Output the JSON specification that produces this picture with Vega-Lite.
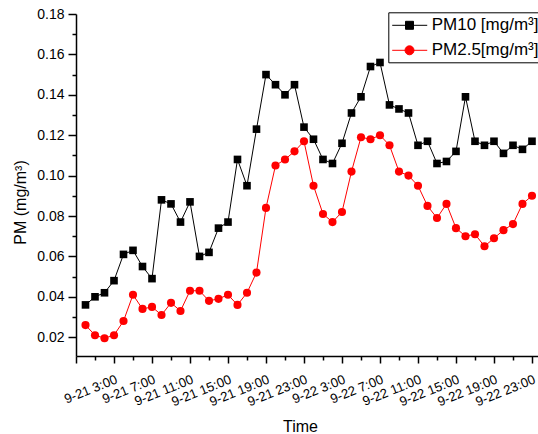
{
  "$schema": "https://vega.github.io/schema/vega-lite/v6.json",
  "width": 462,
  "height": 342,
  "autosize": {"type": "none"},
  "padding": {"left": 76, "top": 14, "right": 0, "bottom": 78},
  "background": "white",
  "config": {
    "view": {"stroke": null},
    "font": "Liberation Sans",
    "axis": {
      "domainColor": "black", "tickColor": "black", "domainWidth": 1.5, "tickWidth": 1.5,
      "labelColor": "black", "titleColor": "black", "labelFont": "Liberation Sans", "titleFont": "Liberation Sans",
      "labelFontSize": 14, "titleFontSize": 16, "titleFontWeight": "normal", "grid": false
    }
  },
  "data": {
    "format": {"parse": {"time": "utc:'%Y-%m-%d %H:%M'"}},
    "values": [
      {"time": "2023-09-21 00:00", "PM10": 0.036, "PM25": 0.026},
      {"time": "2023-09-21 01:00", "PM10": 0.040, "PM25": 0.021},
      {"time": "2023-09-21 02:00", "PM10": 0.042, "PM25": 0.0195},
      {"time": "2023-09-21 03:00", "PM10": 0.048, "PM25": 0.021},
      {"time": "2023-09-21 04:00", "PM10": 0.061, "PM25": 0.028},
      {"time": "2023-09-21 05:00", "PM10": 0.063, "PM25": 0.041},
      {"time": "2023-09-21 06:00", "PM10": 0.055, "PM25": 0.034},
      {"time": "2023-09-21 07:00", "PM10": 0.049, "PM25": 0.035},
      {"time": "2023-09-21 08:00", "PM10": 0.088, "PM25": 0.031},
      {"time": "2023-09-21 09:00", "PM10": 0.086, "PM25": 0.037},
      {"time": "2023-09-21 10:00", "PM10": 0.077, "PM25": 0.033},
      {"time": "2023-09-21 11:00", "PM10": 0.087, "PM25": 0.043},
      {"time": "2023-09-21 12:00", "PM10": 0.060, "PM25": 0.043},
      {"time": "2023-09-21 13:00", "PM10": 0.062, "PM25": 0.038},
      {"time": "2023-09-21 14:00", "PM10": 0.074, "PM25": 0.039},
      {"time": "2023-09-21 15:00", "PM10": 0.077, "PM25": 0.041},
      {"time": "2023-09-21 16:00", "PM10": 0.108, "PM25": 0.036},
      {"time": "2023-09-21 17:00", "PM10": 0.095, "PM25": 0.042},
      {"time": "2023-09-21 18:00", "PM10": 0.123, "PM25": 0.052},
      {"time": "2023-09-21 19:00", "PM10": 0.150, "PM25": 0.084},
      {"time": "2023-09-21 20:00", "PM10": 0.145, "PM25": 0.105},
      {"time": "2023-09-21 21:00", "PM10": 0.140, "PM25": 0.108},
      {"time": "2023-09-21 22:00", "PM10": 0.145, "PM25": 0.112},
      {"time": "2023-09-21 23:00", "PM10": 0.124, "PM25": 0.117},
      {"time": "2023-09-22 00:00", "PM10": 0.118, "PM25": 0.095},
      {"time": "2023-09-22 01:00", "PM10": 0.108, "PM25": 0.081},
      {"time": "2023-09-22 02:00", "PM10": 0.106, "PM25": 0.077},
      {"time": "2023-09-22 03:00", "PM10": 0.116, "PM25": 0.082},
      {"time": "2023-09-22 04:00", "PM10": 0.131, "PM25": 0.102},
      {"time": "2023-09-22 05:00", "PM10": 0.139, "PM25": 0.119},
      {"time": "2023-09-22 06:00", "PM10": 0.154, "PM25": 0.118},
      {"time": "2023-09-22 07:00", "PM10": 0.156, "PM25": 0.120},
      {"time": "2023-09-22 08:00", "PM10": 0.135, "PM25": 0.115},
      {"time": "2023-09-22 09:00", "PM10": 0.133, "PM25": 0.102},
      {"time": "2023-09-22 10:00", "PM10": 0.131, "PM25": 0.100},
      {"time": "2023-09-22 11:00", "PM10": 0.115, "PM25": 0.095},
      {"time": "2023-09-22 12:00", "PM10": 0.117, "PM25": 0.085},
      {"time": "2023-09-22 13:00", "PM10": 0.106, "PM25": 0.079},
      {"time": "2023-09-22 14:00", "PM10": 0.107, "PM25": 0.086},
      {"time": "2023-09-22 15:00", "PM10": 0.112, "PM25": 0.074},
      {"time": "2023-09-22 16:00", "PM10": 0.139, "PM25": 0.070},
      {"time": "2023-09-22 17:00", "PM10": 0.117, "PM25": 0.071},
      {"time": "2023-09-22 18:00", "PM10": 0.115, "PM25": 0.065},
      {"time": "2023-09-22 19:00", "PM10": 0.117, "PM25": 0.069},
      {"time": "2023-09-22 20:00", "PM10": 0.111, "PM25": 0.073},
      {"time": "2023-09-22 21:00", "PM10": 0.115, "PM25": 0.076},
      {"time": "2023-09-22 22:00", "PM10": 0.113, "PM25": 0.086},
      {"time": "2023-09-22 23:00", "PM10": 0.117, "PM25": 0.090}
    ]
  },
  "transform": [{"fold": ["PM10", "PM25"], "as": ["series", "pm"]}],
  "layer": [
    {
      "mark": {"type": "line", "strokeWidth": 1},
      "encoding": {
        "color": {
          "field": "series", "type": "nominal",
          "scale": {"domain": ["PM10", "PM25"], "range": ["#000000", "#ff0000"]},
          "legend": {
            "orient": "none", "legendX": 312.3, "legendY": -1.7, "title": null,
            "strokeColor": "black", "fillColor": "white", "padding": 4, "rowPadding": 8,
            "symbolSize": 289, "labelOffset": 21.4, "labelFontSize": 17, "labelFont": "Liberation Sans",
            "labelColor": "black",
            "labelExpr": "datum.label == 'PM10' ? 'PM10 [mg/m³]' : 'PM2.5[mg/m³]'",
            "encode": {
              "symbols": {
                "update": {
                  "shape": {"signal": "datum.value === 'PM10' ? 'M-1.07,0H3.05M0.495,-0.47H1.435V0.47H0.495Z' : 'M-1.07,0H3.05M0.435,0A0.53,0.53,0,1,1,1.495,0A0.53,0.53,0,1,1,0.435,0Z'"},
                  "fill": {"signal": "datum.value === 'PM10' ? '#000000' : '#ff0000'"},
                  "stroke": {"signal": "datum.value === 'PM10' ? '#000000' : '#ff0000'"},
                  "strokeWidth": {"value": 1},
                  "opacity": {"value": 1},
                  "fillOpacity": {"value": 1},
                  "strokeOpacity": {"value": 1}
                }
              }
            }
          }
        },
        "x": {
          "field": "time", "type": "temporal",
          "scale": {"type": "utc", "nice": false,
            "domain": [{"year": 2023, "month": 9, "date": 20, "hours": 23, "utc": true}, {"year": 2023, "month": 9, "date": 22, "hours": 23, "minutes": 38, "utc": true}]},
          "axis": {
            "orient": "bottom", "domain": false, "labels": false, "title": null, "tickSize": 4,
            "values": [
              {"year": 2023, "month": 9, "date": 21, "hours": 1, "utc": true},
              {"year": 2023, "month": 9, "date": 21, "hours": 5, "utc": true},
              {"year": 2023, "month": 9, "date": 21, "hours": 9, "utc": true},
              {"year": 2023, "month": 9, "date": 21, "hours": 13, "utc": true},
              {"year": 2023, "month": 9, "date": 21, "hours": 17, "utc": true},
              {"year": 2023, "month": 9, "date": 21, "hours": 21, "utc": true},
              {"year": 2023, "month": 9, "date": 22, "hours": 1, "utc": true},
              {"year": 2023, "month": 9, "date": 22, "hours": 5, "utc": true},
              {"year": 2023, "month": 9, "date": 22, "hours": 9, "utc": true},
              {"year": 2023, "month": 9, "date": 22, "hours": 13, "utc": true},
              {"year": 2023, "month": 9, "date": 22, "hours": 17, "utc": true},
              {"year": 2023, "month": 9, "date": 22, "hours": 21, "utc": true}
            ]
          }
        },
        "y": {
          "field": "pm", "type": "quantitative",
          "scale": {"domain": [0.0107, 0.18], "nice": false, "zero": false},
          "axis": {
            "orient": "left", "domain": false, "labels": false, "title": null, "tickSize": 4,
            "values": [0.03, 0.05, 0.07, 0.09, 0.11, 0.13, 0.15, 0.17]
          }
        }
      }
    },
    {
      "transform": [{"filter": "datum.series === 'PM25'"}],
      "mark": {"type": "point", "shape": "circle", "filled": true, "color": "#ff0000", "opacity": 1, "strokeWidth": 0, "size": 66},
      "encoding": {
        "x": {"field": "time", "type": "temporal", "axis": null},
        "y": {"field": "pm", "type": "quantitative", "axis": null}
      }
    },
    {
      "transform": [{"filter": "datum.series === 'PM10'"}],
      "mark": {"type": "point", "shape": "square", "filled": true, "color": "#000000", "opacity": 1, "strokeWidth": 0, "size": 58},
      "encoding": {
        "x": {
          "field": "time", "type": "temporal",
          "axis": {
            "orient": "bottom", "title": "Time", "tickSize": 7,
            "titleX": 224, "titleY": 75, "titleAlign": "center", "titleBaseline": "alphabetic",
            "labelAngle": -22, "labelAlign": "right", "labelBaseline": "top", "labelPadding": 10, "labelFontSize": 13.2,
            "labelOverlap": false, "labelFlush": false, "labelBound": false,
            "labelExpr": "utcdate(datum.value) == 20 ? '' : utcFormat(datum.value, '%-m-%-d %-H:%M')",
            "values": [
              {"year": 2023, "month": 9, "date": 20, "hours": 23, "utc": true},
              {"year": 2023, "month": 9, "date": 21, "hours": 3, "utc": true},
              {"year": 2023, "month": 9, "date": 21, "hours": 7, "utc": true},
              {"year": 2023, "month": 9, "date": 21, "hours": 11, "utc": true},
              {"year": 2023, "month": 9, "date": 21, "hours": 15, "utc": true},
              {"year": 2023, "month": 9, "date": 21, "hours": 19, "utc": true},
              {"year": 2023, "month": 9, "date": 21, "hours": 23, "utc": true},
              {"year": 2023, "month": 9, "date": 22, "hours": 3, "utc": true},
              {"year": 2023, "month": 9, "date": 22, "hours": 7, "utc": true},
              {"year": 2023, "month": 9, "date": 22, "hours": 11, "utc": true},
              {"year": 2023, "month": 9, "date": 22, "hours": 15, "utc": true},
              {"year": 2023, "month": 9, "date": 22, "hours": 19, "utc": true},
              {"year": 2023, "month": 9, "date": 22, "hours": 23, "utc": true}
            ]
          }
        },
        "y": {
          "field": "pm", "type": "quantitative",
          "axis": {
            "orient": "left", "title": "PM (mg/m³)", "tickSize": 8, "labelPadding": 4, "format": ".2f",
            "values": [0.02, 0.04, 0.06, 0.08, 0.10, 0.12, 0.14, 0.16, 0.18],
            "titleX": -56, "titleY": 188, "titleAngle": -90, "titleAlign": "center", "titleBaseline": "middle"
          }
        }
      }
    }
  ],
  "resolve": {"axis": {"x": "independent", "y": "independent"}}
}
